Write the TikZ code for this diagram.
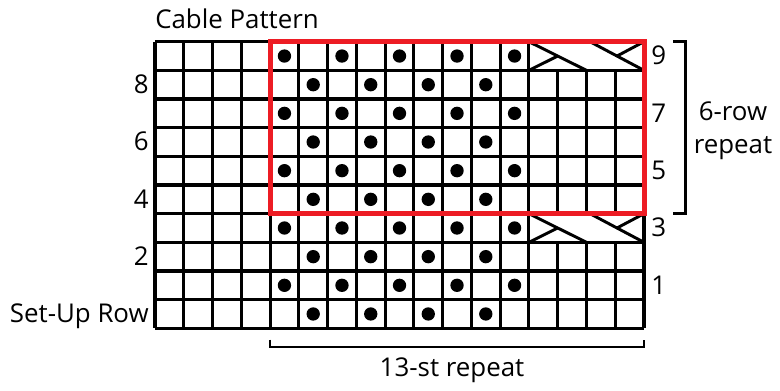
\documentclass[tikz,border=0pt]{standalone}
\usepackage{fontspec}
\setmainfont{Open Sans}
\definecolor{chartred}{HTML}{ED1C24}
\begin{document}
\begin{tikzpicture}[x=0.75pt,y=-0.75pt,
  gridline/.style={line width=2.3pt,line cap=square},
  cableline/.style={line width=2.2pt,line cap=round},
  bracketline/.style={line width=2.1pt},
  repeatbox/.style={draw=chartred,line width=3.75pt},
  lbl/.style={inner sep=0pt,font=\fontsize{19.4}{23}\selectfont},
  stitchdot/.style={fill=black}]
\useasboundingbox (0,0) rectangle (780,390);
% grid
\foreach \j in {0,...,10}
  \draw[gridline] (155,41.7+\j*28.66) -- (644,41.7+\j*28.66);
\foreach \i in {0,...,17}
  \draw[gridline] (155+\i*28.765,41.7) -- (155+\i*28.765,328.3);
% cable cells
\foreach \j in {0,6}{
  \fill[white] (528.9+1.8,41.7+\j*28.66+1.8) rectangle (644-1.8,41.7+\j*28.66+28.66-1.8);
  \draw[cableline] (528.9,41.7+\j*28.66) -- (586.5,41.7+\j*28.66+28.66);
  \draw[cableline] (528.9,41.7+\j*28.66+28.66) -- (557.7,41.7+\j*28.66+14.33);
  \draw[cableline] (590,41.7+\j*28.66) -- (644,41.7+\j*28.66+28.66);
  \draw[cableline] (644,41.7+\j*28.66) -- (617,41.7+\j*28.66+14.33);
}
% purl dots
\foreach \j in {0,2,4,6,8}
  \foreach \i in {4,6,8,10,12}
    \fill[stitchdot] (155+\i*28.765+14.38,41.7+\j*28.66+14.33) circle[radius=5pt];
\foreach \j in {1,3,5,7,9}
  \foreach \i in {5,7,9,11}
    \fill[stitchdot] (155+\i*28.765+14.38,41.7+\j*28.66+14.33) circle[radius=5pt];
% red repeat box
\draw[repeatbox] (270.06,41.7) rectangle (644,213.66);
% brackets
\coordinate (rbA) at (673,41.7);
\coordinate (rbB) at (685.7,41.7);
\coordinate (rbC) at (685.7,213.3);
\coordinate (rbD) at (673,213.3);
\draw[bracketline] (rbA) -- (rbB) -- (rbC) -- (rbD);
\coordinate (bbA) at (270,339.5);
\coordinate (bbB) at (270,347);
\coordinate (bbC) at (644,347);
\coordinate (bbD) at (644,339.5);
\draw[bracketline] (bbA) -- (bbB) -- (bbC) -- (bbD);
% labels
\node[lbl,anchor=base west] (title) at (155,28.5) {Cable Pattern};
\node[lbl,anchor=base east] (l8) at (149,93.5) {8};
\node[lbl,anchor=base east] (l6) at (149,150.8) {6};
\node[lbl,anchor=base east] (l4) at (149,208.1) {4};
\node[lbl,anchor=base east] (l2) at (149,265.2) {2};
\node[lbl,anchor=base east] (l0) at (149,322.2) {Set-Up Row};
\node[lbl,anchor=base west] (r9) at (651,64.8) {9};
\node[lbl,anchor=base west] (r7) at (651,122.1) {7};
\node[lbl,anchor=base west] (r5) at (651,179.4) {5};
\node[lbl,anchor=base west] (r3) at (651,236.7) {3};
\node[lbl,anchor=base west] (r1) at (651,294.0) {1};
\node[lbl,anchor=base] (rowrep1) at (733,120.7) {6-row};
\node[lbl,anchor=base] (rowrep2) at (733,153.3) {repeat};
\node[lbl,anchor=base] (strep) at (452,376.7) {13-st repeat};
\end{tikzpicture}
\end{document}
